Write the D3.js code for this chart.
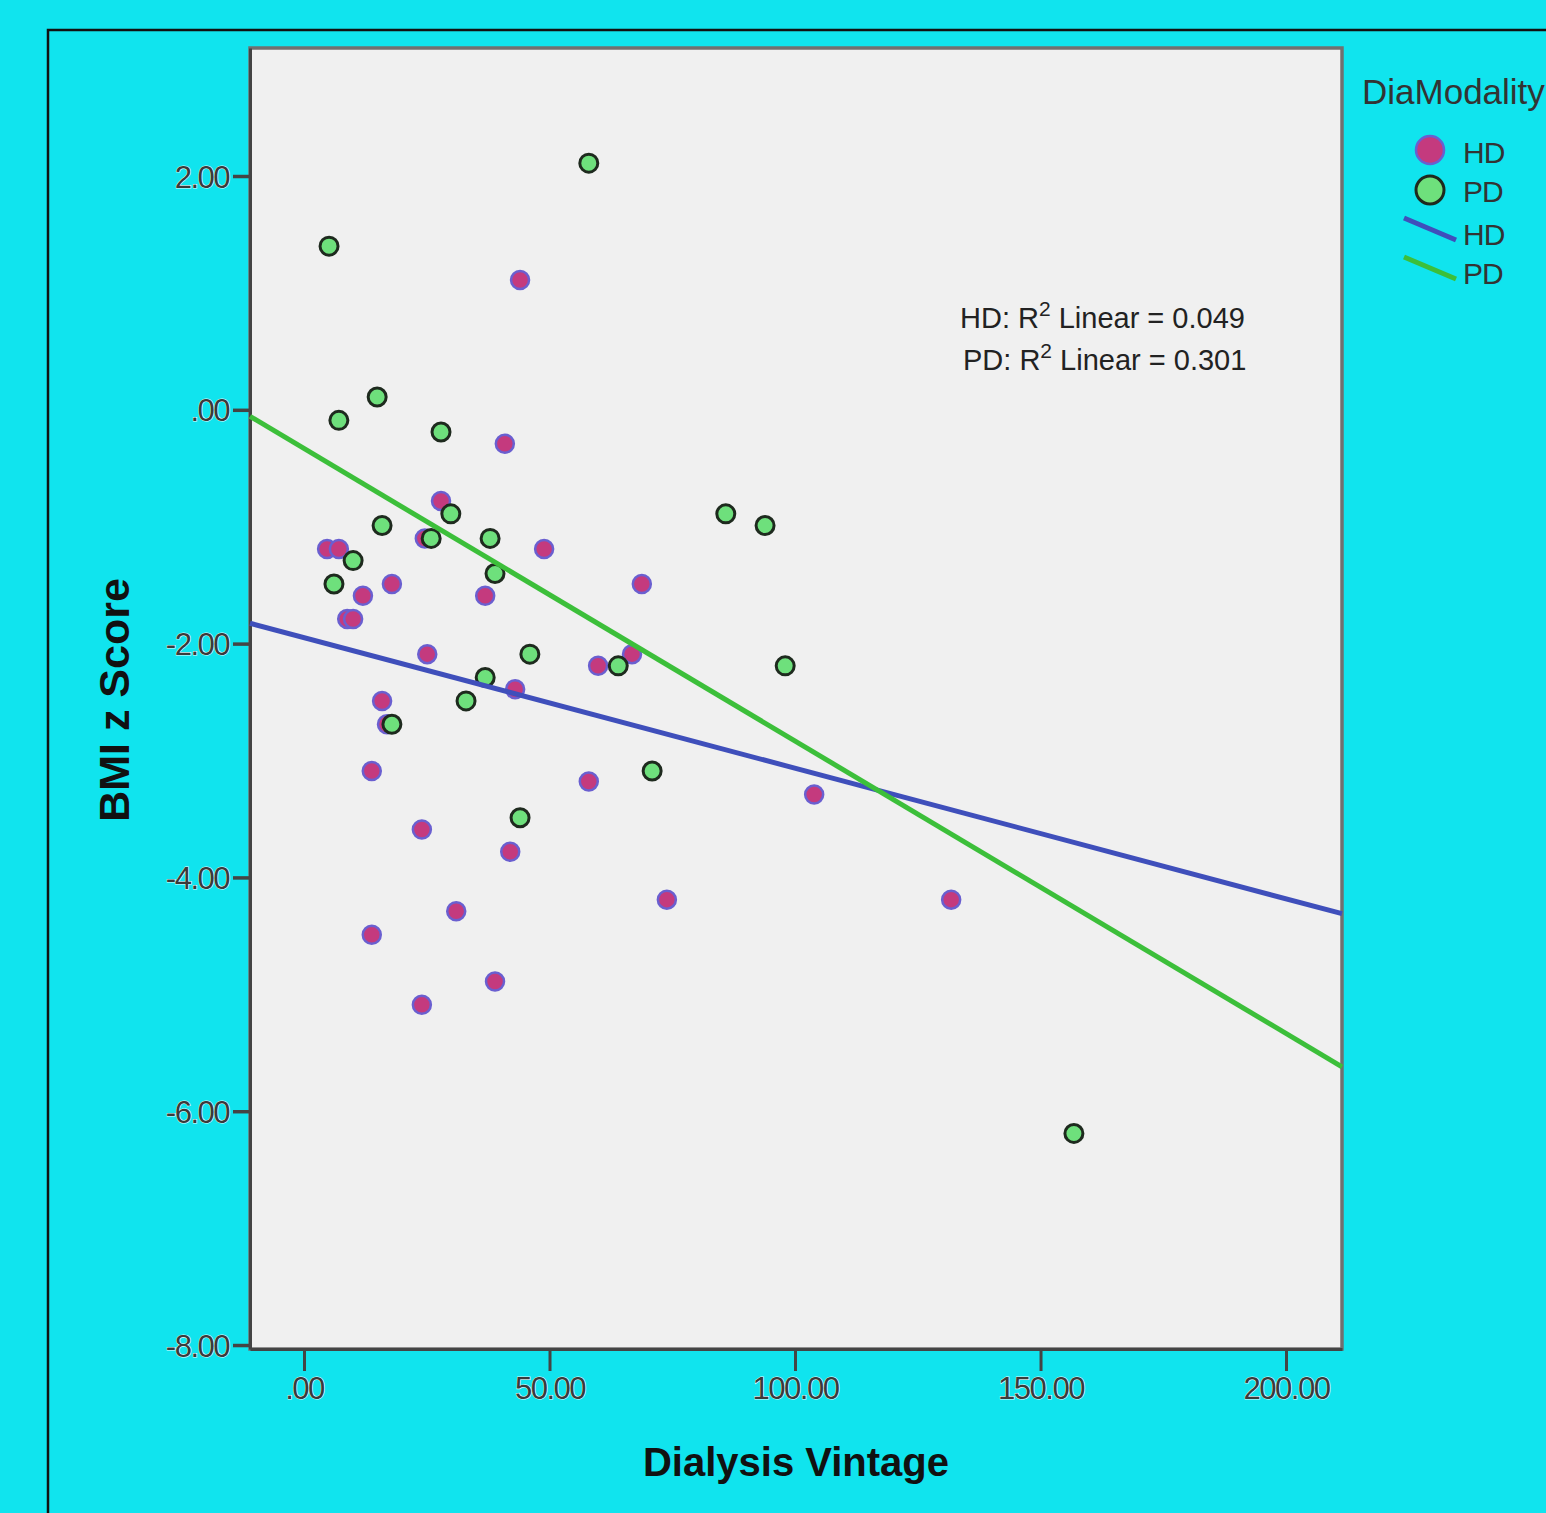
<!DOCTYPE html>
<html>
<head>
<meta charset="utf-8">
<script src="https://cdn.jsdelivr.net/npm/d3@7"></script>
<style>
  body { margin: 0; background: #10e4ee; overflow: hidden; }
  text { font-family: "Liberation Sans", Arial, sans-serif; }
</style>
</head>
<body>
<div id="container"></div>
<script>
// HD points: [dialysis vintage, BMI z score]
var hdPoints = [
  [44.0, 1.11], [40.9, -0.29], [27.9, -0.78], [48.9, -1.19], [4.7, -1.19],
  [7.1, -1.19], [24.6, -1.10], [68.8, -1.49], [17.9, -1.49], [12.0, -1.59],
  [36.9, -1.59], [8.8, -1.79], [10.0, -1.79], [25.1, -2.09], [59.9, -2.19],
  [66.8, -2.09], [15.9, -2.49], [43.0, -2.39], [16.9, -2.69], [13.8, -3.09],
  [58.0, -3.18], [103.9, -3.29], [24.0, -3.59], [42.0, -3.78], [73.9, -4.19],
  [131.8, -4.19], [31.0, -4.29], [13.8, -4.49], [38.9, -4.89], [24.0, -5.09]
];
var pdPoints = [
  [58.0, 2.11], [5.1, 1.40], [14.9, 0.11], [7.1, -0.09], [27.9, -0.19],
  [29.9, -0.89], [15.9, -0.99], [25.9, -1.10], [37.9, -1.10], [10.0, -1.29],
  [38.9, -1.40], [6.1, -1.49], [85.9, -0.89], [93.9, -0.99], [46.0, -2.09],
  [64.0, -2.19], [98.0, -2.19], [36.9, -2.29], [33.0, -2.49], [17.9, -2.69],
  [70.9, -3.09], [44.0, -3.49], [156.8, -6.19]
];
// fit lines: [intercept, slope]
var hdFit = [-1.949, -0.01117];
var pdFit = [-0.331, -0.02502];
var xTicks = [0, 50, 100, 150, 200];
var yTicks = [2, 0, -2, -4, -6, -8];
var r2Labels = ["0.049", "0.301"];

var W = 1546, H = 1513;
var pLeft = 250, pRight = 1342, pTop = 48, pBottom = 1349;

var svg = d3.select("#container").append("svg")
    .attr("width", W).attr("height", H);

svg.append("rect").attr("width", W).attr("height", H).attr("fill", "#10e4ee");

// outer frame
svg.append("rect")
    .attr("x", 48).attr("y", 30).attr("width", 1600).attr("height", 1600)
    .attr("fill", "none").attr("stroke", "#111").attr("stroke-width", 2.5);

var x = d3.scaleLinear().domain([-11.0, 211.4]).range([pLeft, pRight]);
var y = d3.scaleLinear().domain([-8.034, 3.095]).range([pBottom, pTop]);

// plot background
svg.append("rect")
    .attr("x", pLeft).attr("y", pTop)
    .attr("width", pRight - pLeft).attr("height", pBottom - pTop)
    .attr("fill", "#f0f0f0")
    .attr("stroke", "#707070").attr("stroke-width", 3.5);

function fmt(v) {
  var s = d3.format(".2f")(Math.abs(v)).replace(/^0\./, ".");
  return (v < 0 ? "-" : "") + s;
}

var tickStyle = function(sel) {
  sel.style("font-size", "31px").attr("fill", "#3a3a3a")
     .attr("letter-spacing", "-1.5")
     .attr("stroke", "#dffcff").attr("stroke-width", 1.2)
     .attr("paint-order", "stroke");
};

// y axis
var yAxis = svg.append("g").attr("transform", "translate(" + pLeft + ",0)")
    .call(d3.axisLeft(y).tickValues(yTicks).tickFormat(fmt)
      .tickSizeInner(17).tickSizeOuter(0).tickPadding(4));
yAxis.select(".domain").attr("stroke", "#444").attr("stroke-width", 3);
yAxis.selectAll(".tick line").attr("stroke", "#444").attr("stroke-width", 3.5);
yAxis.selectAll(".tick text").call(tickStyle).attr("dy", "0.36em");

// x axis
var xAxis = svg.append("g").attr("transform", "translate(0," + pBottom + ")")
    .call(d3.axisBottom(x).tickValues(xTicks).tickFormat(fmt)
      .tickSizeInner(22).tickSizeOuter(0).tickPadding(4));
xAxis.select(".domain").attr("stroke", "#444").attr("stroke-width", 3);
xAxis.selectAll(".tick line").attr("stroke", "#444").attr("stroke-width", 3);
xAxis.selectAll(".tick text").call(tickStyle).attr("dy", "0.78em");

// axis titles
svg.append("text")
    .attr("x", 796).attr("y", 1476)
    .attr("text-anchor", "middle")
    .style("font-size", "40px").style("font-weight", "bold")
    .attr("fill", "#111")
    .text("Dialysis Vintage");

svg.append("text")
    .attr("transform", "translate(129,700) rotate(-90)")
    .attr("text-anchor", "middle")
    .style("font-size", "43px").style("font-weight", "bold")
    .attr("fill", "#111")
    .text("BMI z Score");

// points
var plot = svg.append("g");
var hdFill = "#c43a7e", hdStroke = "#6a5fd0";
var pdFill = "#6ee07c", pdStroke = "#1e2a1e";

plot.selectAll("circle.hd").data(hdPoints).enter().append("circle")
    .attr("class", "hd")
    .attr("cx", function(d) { return x(d[0]); })
    .attr("cy", function(d) { return y(d[1]); })
    .attr("r", 9)
    .attr("fill", hdFill).attr("stroke", hdStroke).attr("stroke-width", 2.5);

plot.selectAll("circle.pd").data(pdPoints).enter().append("circle")
    .attr("class", "pd")
    .attr("cx", function(d) { return x(d[0]); })
    .attr("cy", function(d) { return y(d[1]); })
    .attr("r", 9)
    .attr("fill", pdFill).attr("stroke", pdStroke).attr("stroke-width", 3);

// fit lines across whole x range
var xd = x.domain();
var fits = [{f: hdFit, c: "#3f4fbb"}, {f: pdFit, c: "#3cbf3a"}];
plot.selectAll("line.fit").data(fits).enter().append("line")
    .attr("class", "fit")
    .attr("x1", x(xd[0])).attr("x2", x(xd[1]))
    .attr("y1", function(d) { return y(d.f[0] + d.f[1] * xd[0]); })
    .attr("y2", function(d) { return y(d.f[0] + d.f[1] * xd[1]); })
    .attr("stroke", function(d) { return d.c; })
    .attr("stroke-width", 5);

// R2 annotations
var ann = svg.append("g");
["HD", "PD"].forEach(function(g, i) {
  var t = ann.append("text")
      .attr("x", i === 0 ? 960 : 963).attr("y", 328 + i * 42)
      .style("font-size", "29px").attr("fill", "#222")
      .attr("letter-spacing", "0");
  t.append("tspan").text(g + ": R");
  t.append("tspan").attr("dy", -12).style("font-size", "21px").text("2");
  t.append("tspan").attr("dy", 12).text(" Linear = " + r2Labels[i]);
});

// legend
var leg = svg.append("g");
leg.append("text").attr("x", 1362).attr("y", 104)
    .style("font-size", "35px").attr("fill", "#333")
    .text("DiaModality");
leg.append("circle").attr("cx", 1430).attr("cy", 150).attr("r", 14)
    .attr("fill", hdFill).attr("stroke", hdStroke).attr("stroke-width", 2.5);
leg.append("circle").attr("cx", 1430).attr("cy", 190).attr("r", 14)
    .attr("fill", pdFill).attr("stroke", pdStroke).attr("stroke-width", 3);
leg.append("line").attr("x1", 1404).attr("y1", 218).attr("x2", 1456).attr("y2", 240)
    .attr("stroke", fits[0].c).attr("stroke-width", 5);
leg.append("line").attr("x1", 1404).attr("y1", 257).attr("x2", 1456).attr("y2", 279)
    .attr("stroke", fits[1].c).attr("stroke-width", 5);
var legLabels = ["HD", "PD", "HD", "PD"];
var legY = [163, 202, 245, 284];
leg.selectAll("text.item").data(legLabels).enter().append("text")
    .attr("class", "item")
    .attr("x", 1463).attr("y", function(d, i) { return legY[i]; })
    .style("font-size", "30px").attr("fill", "#333").attr("letter-spacing", "-1")
    .text(function(d) { return d; });
</script>
</body>
</html>
